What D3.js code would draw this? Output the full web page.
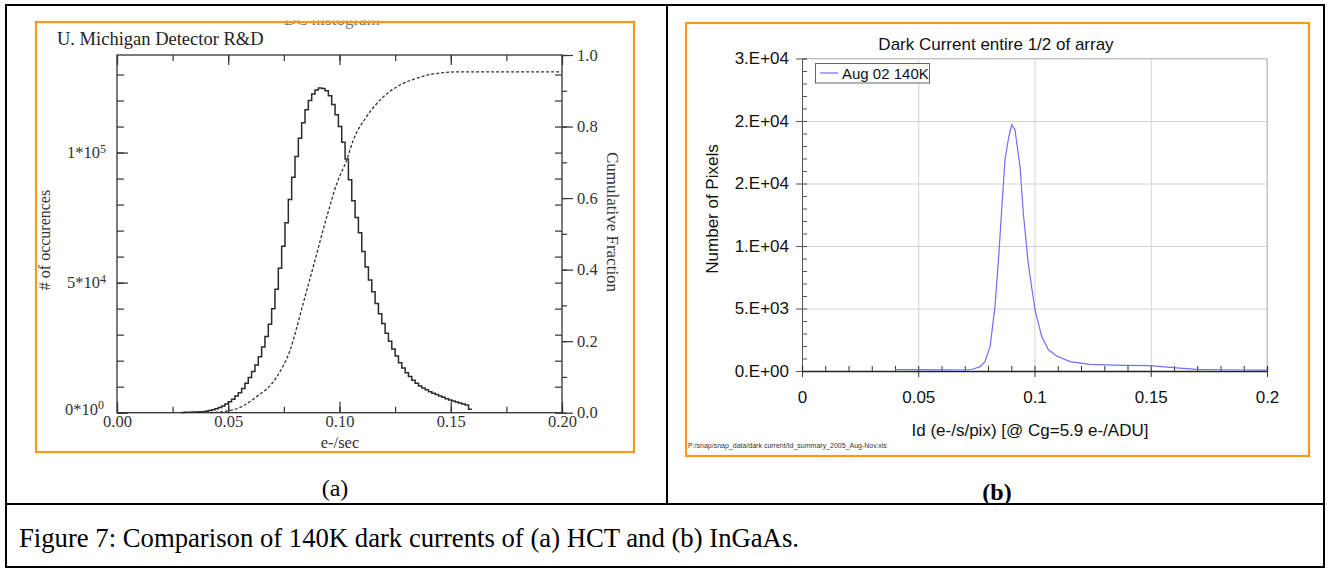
<!DOCTYPE html>
<html>
<head>
<meta charset="utf-8">
<script src="https://cdn.jsdelivr.net/npm/d3@7"></script>
<style>
  body { margin: 0; background: #fff; }
  svg { display: block; }
</style>
</head>
<body>
<svg width="1328" height="569"></svg>
<script>
// ---------- (a) HCT : histogram ----------
const hctBinStart = 0.029;
const hctBinWidth = 0.0015;
const hctCounts = [100,150,200,250,300,350,400,600,850,1150,1500,2000,2600,3300,4200,5200,6400,7700,9300,11300,
  13500,15800,18300,21500,25300,29300,34000,40000,47500,55500,64000,73000,82000,90500,98500,105500,111500,116500,
  120000,122500,124000,124800,124600,123800,121800,118500,114500,110000,104000,97500,89500,81500,75000,69200,62000,
  56000,51000,46500,42000,38000,34300,30500,27500,24500,21800,19200,17200,15400,13900,12500,11300,10300,9500,8800,
  8100,7500,7000,6400,5900,5400,4900,4500,4100,3700,3300,3000,1300];

// cumulative fraction (dashed curve)
const cumX    = [0.0418,0.0523,0.0628,0.0718,0.0778,0.0837,0.0882,0.0943,0.0988,0.1032,0.1062,0.1122,0.1197,0.1272,0.1347,0.1422,0.1542,0.2];
const cumFrac = [0,0.008,0.045,0.10,0.175,0.306,0.408,0.548,0.641,0.706,0.762,0.828,0.883,0.916,0.935,0.947,0.953,0.953];

const hctXTicks = [0, 0.05, 0.10, 0.15, 0.20];
const hctYTicks = [0, 50000, 100000];
const hctYMant  = ["0", "5", "1"];
const hctYExp   = ["0", "4", "5"];
const cumTicks  = [0, 0.2, 0.4, 0.6, 0.8, 1.0];

// ---------- (b) InGaAs ----------
const idX      = [0.040,0.050,0.060,0.070,0.073,0.0766,0.0787,0.0809,0.083,0.0845,0.0859,0.0873,0.0889,0.0902,0.0916,
  0.0938,0.0952,0.0973,0.1002,0.1031,0.106,0.1095,0.1153,0.1239,0.1382,0.1497,0.1597,0.1698,0.18,0.19,0.2];
const idCounts = [120,110,90,80,120,350,750,1950,5150,8900,12900,16900,18700,19700,19300,
  16300,12600,8600,4900,2750,1700,1200,750,530,450,430,270,130,100,80,70];

const inXTicks  = [0, 0.05, 0.1, 0.15, 0.2];
const inXLabels = ["0", "0.05", "0.1", "0.15", "0.2"];
const inYTicks  = [0, 5000, 10000, 15000, 20000, 25000];
const inYLabels = ["0.E+00", "5.E+03", "1.E+04", "2.E+04", "2.E+04", "3.E+04"];

const svg = d3.select("svg");
const orange = "#f59b18";
const serif = "'Liberation Serif', 'Times New Roman', serif";
const sans = "'Liberation Sans', Arial, sans-serif";

svg.append("rect").attr("width", 1328).attr("height", 569).attr("fill", "#fff");

// ================= panel (a) =================
const ga = svg.append("g");

// title of the scanned plot, mostly cut off by the frame
ga.append("clipPath").attr("id", "cutTitle")
  .append("rect").attr("x", 36).attr("y", 20.5).attr("width", 598).attr("height", 10);
ga.append("text")
  .attr("clip-path", "url(#cutTitle)")
  .attr("x", 284).attr("y", 25)
  .attr("font-family", serif).attr("font-size", 17).attr("fill", "#777")
  .text("DC histogram");

const xA = d3.scaleLinear().domain([0, 0.2]).range([117, 562]);
const yA = d3.scaleLinear().domain([0, 137500]).range([412.7, 55]);
const cA = d3.scaleLinear().domain([0, 1]).range([412.7, 55]);

const ink = "#333";

function styleAxis(g) {
  g.select(".domain").remove();
  g.selectAll("line").attr("stroke", ink).attr("stroke-width", 1.2);
  g.selectAll("text").attr("font-family", serif).attr("font-size", 16.5).attr("fill", ink);
}

// minor / major ticks on all four sides
const minorX = d3.range(0, 0.2001, 0.025);
ga.append("g").attr("transform", "translate(0,412.7)")
  .call(d3.axisBottom(xA).tickValues(minorX).tickSize(-6).tickFormat(""))
  .call(styleAxis);
ga.append("g").attr("transform", "translate(0,412.7)")
  .call(d3.axisBottom(xA).tickValues(hctXTicks).tickSize(-11).tickPadding(3).tickFormat(d3.format(".2f")))
  .call(styleAxis);
ga.append("g").attr("transform", "translate(0,55)")
  .call(d3.axisTop(xA).tickValues(minorX).tickSize(-6).tickFormat(""))
  .call(styleAxis);
ga.append("g").attr("transform", "translate(0,55)")
  .call(d3.axisTop(xA).tickValues(hctXTicks).tickSize(-10).tickFormat(""))
  .call(styleAxis);

const minorY = d3.range(0, 130001, 10000);
ga.append("g").attr("transform", "translate(117,0)")
  .call(d3.axisLeft(yA).tickValues(minorY).tickSize(-7).tickFormat(""))
  .call(styleAxis);
ga.append("g").attr("transform", "translate(117,0)")
  .call(d3.axisLeft(yA).tickValues(hctYTicks).tickSize(-11).tickPadding(11).tickFormat(""))
  .call(styleAxis)
  .call(g => g.selectAll(".tick text").each(function (d, i) {
    const t = d3.select(this);
    if (d === 0) t.attr("x", -13).attr("dy", "0.1em");
    t.append("tspan").text(hctYMant[i] + "*10");
    t.append("tspan").attr("dy", "-0.45em").attr("font-size", 12).text(hctYExp[i]);
  }));
ga.append("g").attr("transform", "translate(562,0)")
  .call(d3.axisRight(yA).tickValues(minorY).tickSize(-7).tickFormat(""))
  .call(styleAxis);
ga.append("g").attr("transform", "translate(562,0)")
  .call(d3.axisRight(cA).tickValues(d3.range(0, 1.001, 0.1)).tickSize(5).tickFormat(""))
  .call(styleAxis);
ga.append("g").attr("transform", "translate(562,0)")
  .call(d3.axisRight(cA).tickValues(cumTicks).tickSize(11).tickPadding(4).tickFormat(d3.format(".1f")))
  .call(styleAxis);

ga.append("rect")
  .attr("x", xA(0)).attr("y", yA.range()[1])
  .attr("width", xA(0.2) - xA(0)).attr("height", yA.range()[0] - yA.range()[1])
  .attr("fill", "none").attr("stroke", ink).attr("stroke-width", 1.3);

// histogram (step line)
const histPts = hctCounts.map((c, i) => [hctBinStart + i * hctBinWidth, c]);
histPts.push([hctBinStart + hctCounts.length * hctBinWidth, hctCounts[hctCounts.length - 1]]);
ga.append("path")
  .attr("d", d3.line().x(d => xA(d[0])).y(d => yA(d[1])).curve(d3.curveStepAfter)(histPts))
  .attr("fill", "none").attr("stroke", "#2b2b2b").attr("stroke-width", 1.5);

// cumulative fraction
ga.append("path")
  .attr("d", d3.line().x(d => xA(d[0])).y(d => cA(d[1])).curve(d3.curveMonotoneX)(d3.zip(cumX, cumFrac)))
  .attr("fill", "none").attr("stroke", "#333").attr("stroke-width", 1.3).attr("stroke-dasharray", "3,2");

ga.append("text").attr("x", 57).attr("y", 45)
  .attr("font-family", serif).attr("font-size", 18.5).attr("fill", "#222")
  .text("U. Michigan Detector R&D");
ga.append("text").attr("x", 340).attr("y", 448).attr("text-anchor", "middle")
  .attr("font-family", serif).attr("font-size", 16.5).attr("fill", ink)
  .text("e-/sec");
ga.append("text").attr("transform", "translate(50,240) rotate(-90)").attr("text-anchor", "middle")
  .attr("font-family", serif).attr("font-size", 16).attr("fill", ink)
  .text("# of occurences");
ga.append("text").attr("transform", "translate(607,222) rotate(90)").attr("text-anchor", "middle")
  .attr("font-family", serif).attr("font-size", 17).attr("fill", ink)
  .text("Cumulative Fraction");

ga.append("rect").attr("x", 36).attr("y", 22).attr("width", 598).attr("height", 430)
  .attr("fill", "none").attr("stroke", orange).attr("stroke-width", 2.2);

// ================= panel (b) =================
const gb = svg.append("g");
const xB = d3.scaleLinear().domain([0, 0.2]).range([802, 1267]);
const yB = d3.scaleLinear().domain([0, 25000]).range([371, 58.5]);

// grid
gb.append("g").attr("transform", "translate(802,0)")
  .call(d3.axisLeft(yB).tickValues(inYTicks.slice(1)).tickSize(-465).tickFormat(""))
  .call(g => g.select(".domain").remove())
  .call(g => g.selectAll("line").attr("stroke", "#d4d4d4"));
gb.append("g").attr("transform", "translate(0,371)")
  .call(d3.axisBottom(xB).tickValues(inXTicks.slice(1)).tickSize(-312.5).tickFormat(""))
  .call(g => g.select(".domain").remove())
  .call(g => g.selectAll("line").attr("stroke", "#d4d4d4"));
gb.append("path")
  .attr("d", `M${xB(0)},${yB(25000)}H${xB(0.2)}V${yB(0)}`)
  .attr("fill", "none").attr("stroke", "#bdbdbd");

// y axis
gb.append("g").attr("transform", "translate(802,0)")
  .call(d3.axisLeft(yB).tickValues(d3.range(0, 25001, 1000)).tickSize(-5).tickFormat(""))
  .call(g => g.selectAll("line").attr("stroke", "#555"))
  .call(g => g.select(".domain").attr("stroke", "#555"));
gb.append("g").attr("transform", "translate(802,0)")
  .call(d3.axisLeft(yB).tickValues(inYTicks).tickSize(6).tickPadding(7).tickFormat((d, i) => inYLabels[i]))
  .call(g => g.select(".domain").remove())
  .call(g => g.selectAll("line").attr("stroke", "#555"))
  .call(g => g.selectAll("text").attr("font-family", sans).attr("font-size", 17).attr("fill", "#111"));

// x axis
gb.append("g").attr("transform", "translate(0,371)")
  .call(d3.axisBottom(xB).tickValues(d3.range(0, 0.2001, 0.01)).tickSize(-5).tickFormat(""))
  .call(g => g.selectAll("line").attr("stroke", "#333"))
  .call(g => g.select(".domain").attr("stroke", "#222").attr("stroke-width", 1.3));
gb.append("g").attr("transform", "translate(0,371)")
  .call(d3.axisBottom(xB).tickValues(inXTicks).tickSize(6).tickPadding(14).tickFormat((d, i) => inXLabels[i]))
  .call(g => g.select(".domain").remove())
  .call(g => g.selectAll("line").attr("stroke", "#333"))
  .call(g => g.selectAll("text").attr("font-family", sans).attr("font-size", 17).attr("fill", "#111"));

// curve
gb.append("path")
  .attr("d", d3.line().x(d => xB(d[0])).y(d => yB(d[1]))(d3.zip(idX, idCounts)))
  .attr("fill", "none").attr("stroke", "#6e6eff").attr("stroke-width", 1.2);

// legend
gb.append("rect").attr("x", 815.5).attr("y", 63.5).attr("width", 114).attr("height", 19.5)
  .attr("fill", "#fff").attr("stroke", "#666");
gb.append("line").attr("x1", 820).attr("x2", 838).attr("y1", 73).attr("y2", 73)
  .attr("stroke", "#6e6eff").attr("stroke-width", 1.2);
gb.append("text").attr("x", 842).attr("y", 79)
  .attr("font-family", sans).attr("font-size", 15).attr("fill", "#111")
  .text("Aug 02 140K");

gb.append("text").attr("x", 996).attr("y", 50).attr("text-anchor", "middle")
  .attr("font-family", sans).attr("font-size", 17).attr("fill", "#111")
  .text("Dark Current entire 1/2 of array");
gb.append("text").attr("x", 1030).attr("y", 436).attr("text-anchor", "middle")
  .attr("font-family", sans).attr("font-size", 17).attr("fill", "#111")
  .text("Id (e-/s/pix) [@ Cg=5.9 e-/ADU]");
gb.append("text").attr("transform", "translate(718,209) rotate(-90)").attr("text-anchor", "middle")
  .attr("font-family", sans).attr("font-size", 17).attr("fill", "#111")
  .text("Number of Pixels");
gb.append("text").attr("x", 688).attr("y", 448)
  .attr("font-family", sans).attr("font-size", 7).attr("fill", "#333")
  .text("P:/snap/snap_data/dark current/Id_summary_2005_Aug-Nov.xls");

gb.append("rect").attr("x", 686).attr("y", 23).attr("width", 623).attr("height", 433)
  .attr("fill", "none").attr("stroke", orange).attr("stroke-width", 2.2);

// ================= table frame and captions =================
const frame = svg.append("g").attr("stroke", "#000").attr("stroke-width", 2);
frame.append("rect").attr("x", 6).attr("y", 5).attr("width", 1318).attr("height", 562).attr("fill", "none");
frame.append("line").attr("x1", 667).attr("x2", 667).attr("y1", 5).attr("y2", 504);
frame.append("line").attr("x1", 6).attr("x2", 1324).attr("y1", 504).attr("y2", 504);

svg.append("text").attr("x", 335).attr("y", 496).attr("text-anchor", "middle")
  .attr("font-family", serif).attr("font-size", 24).text("(a)");
svg.append("text").attr("x", 997).attr("y", 500).attr("text-anchor", "middle")
  .attr("font-family", serif).attr("font-size", 24).attr("font-weight", "bold").text("(b)");
svg.append("text").attr("x", 19).attr("y", 547)
  .attr("font-family", serif).attr("font-size", 26.7)
  .text("Figure 7: Comparison of 140K dark currents of (a) HCT and (b) InGaAs.");
</script>
</body>
</html>
